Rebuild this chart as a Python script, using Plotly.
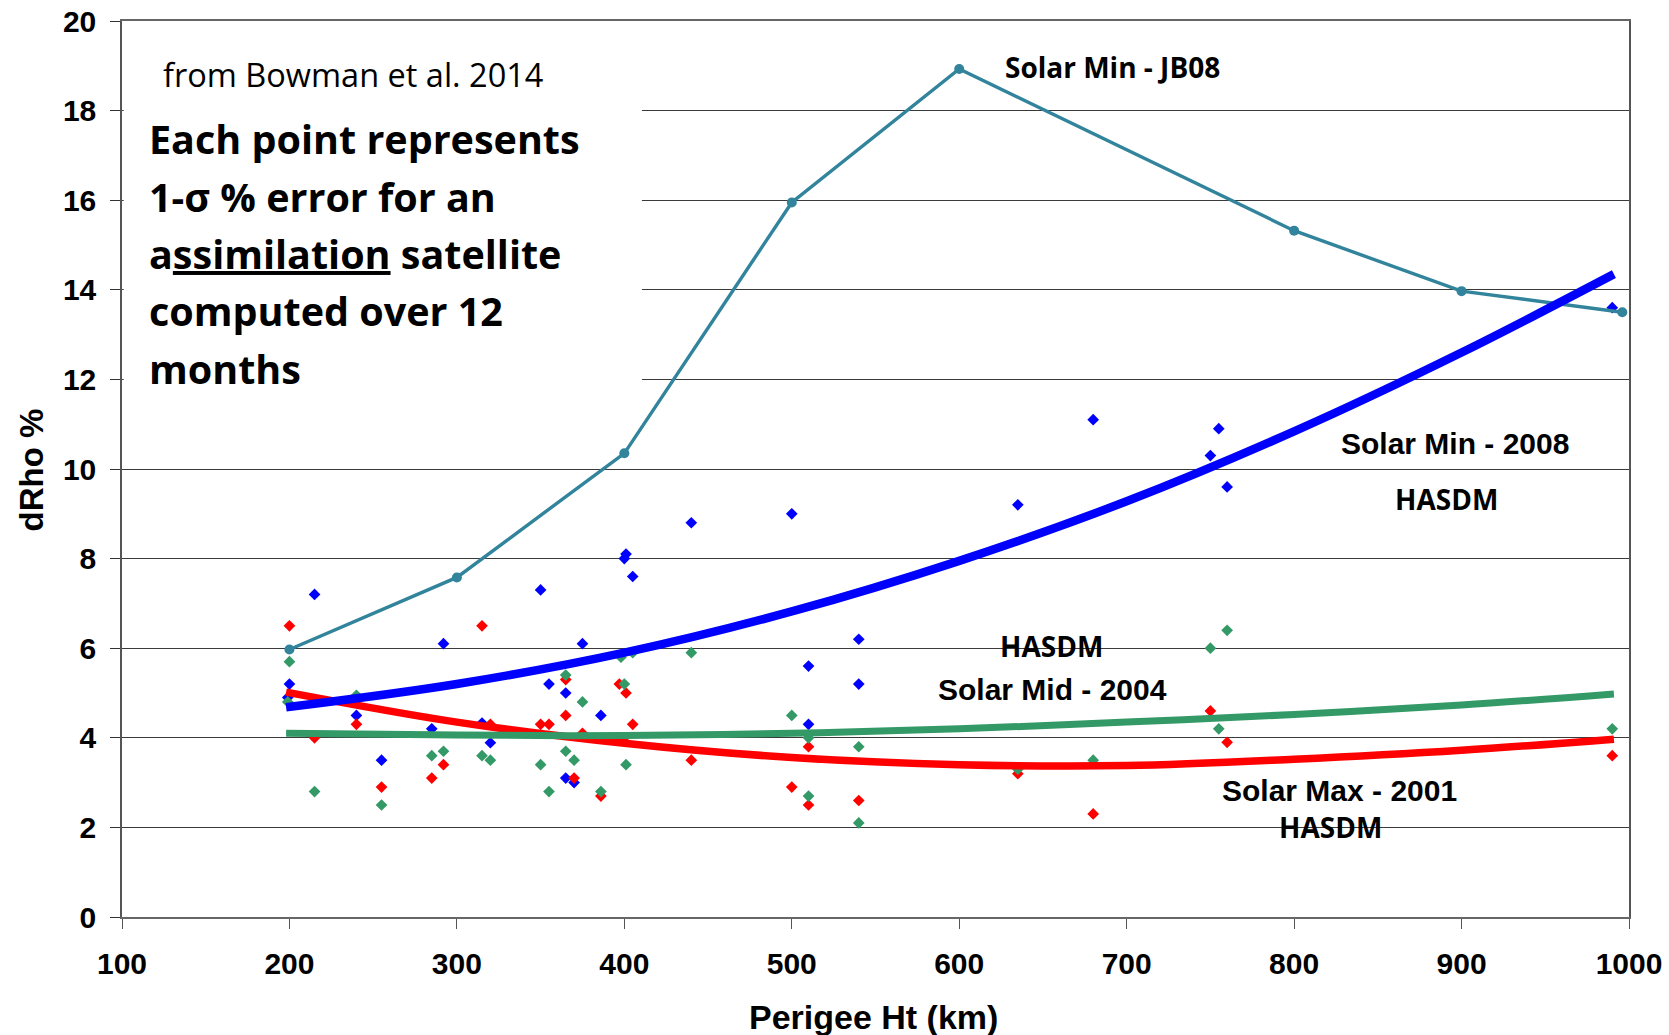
import plotly.graph_objects as go

# ---- data ----
x_ticks = [100, 200, 300, 400, 500, 600, 700, 800, 900, 1000]
y_ticks = [0, 2, 4, 6, 8, 10, 12, 14, 16, 18, 20]

# Solar Min - JB08 (teal line with markers)
jb08_x = [200, 300, 400, 500, 600, 800, 900, 996]
jb08_y = [5.97, 7.58, 10.35, 15.95, 18.93, 15.32, 13.97, 13.5]

# Scatter points (HASDM, one per satellite)
min2008_x = [200, 199, 215, 240, 255, 285, 292, 315, 320, 350, 355, 365, 365, 370, 375, 386,
             400, 401, 405, 440, 500, 510, 510, 540, 540, 635, 680, 750, 755, 760, 990]
min2008_y = [5.2, 4.9, 7.2, 4.5, 3.5, 4.2, 6.1, 4.33, 3.89, 7.3, 5.2, 5.0, 3.1, 3.0, 6.1, 4.5,
             8.0, 8.1, 7.6, 8.8, 9.0, 5.6, 4.3, 6.2, 5.2, 9.2, 11.1, 10.3, 10.9, 9.6, 13.6]

max2001_x = [200, 215, 240, 255, 285, 292, 315, 320, 350, 355, 365, 365, 370, 375, 386, 397,
             401, 400, 405, 440, 500, 510, 510, 540, 635, 680, 750, 760, 990]
max2001_y = [6.5, 4.0, 4.3, 2.9, 3.1, 3.4, 6.5, 4.3, 4.3, 4.3, 5.3, 4.5, 3.1, 4.1, 2.7, 5.2,
             5.0, 4.0, 4.3, 3.5, 2.9, 3.8, 2.5, 2.6, 3.2, 2.3, 4.6, 3.9, 3.6]

mid2004_x = [200, 199, 215, 240, 255, 285, 292, 315, 320, 350, 355, 365, 365, 370, 375, 386,
             398, 400, 401, 405, 440, 500, 510, 510, 540, 540, 635, 680, 750, 755, 760, 990]
mid2004_y = [5.7, 4.8, 2.8, 4.95, 2.5, 3.6, 3.7, 3.6, 3.5, 3.4, 2.8, 5.4, 3.7, 3.5, 4.8, 2.8,
             5.8, 5.2, 3.4, 5.9, 5.9, 4.5, 4.0, 2.7, 3.8, 2.1, 3.3, 3.5, 6.0, 4.2, 6.4, 4.2]

# Trend lines
fit_x = [198, 300, 400, 500, 600, 700, 800, 900, 991]
fit_min2008 = [4.68, 5.2, 5.9, 6.82, 7.95, 9.28, 10.84, 12.6, 14.35]
fit_max2001 = [5.02, 4.35, 3.88, 3.56, 3.40, 3.38, 3.52, 3.72, 3.97]
fit_mid2004 = [4.1, 4.06, 4.05, 4.1, 4.2, 4.35, 4.52, 4.73, 4.98]

BLUE = "#0000FF"
RED = "#FF0000"
GREEN = "#339966"
TEAL = "#31849B"

fig = go.Figure()

def pts(x, y, c):
    fig.add_trace(go.Scatter(x=x, y=y, mode="markers",
                             marker=dict(symbol="diamond", size=9, color=c, line=dict(width=0)),
                             showlegend=False, hoverinfo="x+y"))

pts(min2008_x, min2008_y, BLUE)
pts(max2001_x, max2001_y, RED)
pts(mid2004_x, mid2004_y, GREEN)

fig.add_trace(go.Scatter(x=jb08_x, y=jb08_y, mode="lines+markers",
                         line=dict(color=TEAL, width=3.4),
                         marker=dict(symbol="circle", size=10, color=TEAL),
                         showlegend=False))

fig.add_trace(go.Scatter(x=fit_x, y=fit_max2001, mode="lines", line=dict(color=RED, width=7.5, shape="spline"),
                         showlegend=False))
fig.add_trace(go.Scatter(x=fit_x, y=fit_mid2004, mode="lines", line=dict(color=GREEN, width=7, shape="spline"),
                         showlegend=False))
fig.add_trace(go.Scatter(x=fit_x, y=fit_min2008, mode="lines", line=dict(color=BLUE, width=8.5, shape="spline"),
                         showlegend=False))

ARIAL = "Liberation Sans, Arial, sans-serif"
CALIBRI = "Open Sans, Noto Sans, sans-serif"

annotations = []

def label(text, x, y, size, family, xanchor="center", bold=True):
    annotations.append(dict(x=x, y=y, xref="x", yref="y", text=text, showarrow=False,
                            xanchor=xanchor, yanchor="middle",
                            font=dict(family=family, size=size, color="black",
                                      weight="bold" if bold else "normal")))

label("from Bowman et al. 2014", 123.0, 18.81, 32.5, CALIBRI, xanchor="left", bold=False)
block = ["Each point represents", "1-σ % error for an", "a<u>ssimilation</u> satellite",
         "computed over 12", "months"]
block_y = [17.36, 16.07, 14.79, 13.52, 12.24]
for t, yy in zip(block, block_y):
    label(t, 114.8, yy, 39.5, CALIBRI, xanchor="left")

label("Solar Min - JB08", 626, 18.97, 28, CALIBRI, xanchor="left")
label("Solar Min - 2008", 896.0, 10.57, 30, ARIAL)
label("HASDM", 891, 9.32, 28, CALIBRI)
label("HASDM", 655, 6.06, 28, CALIBRI)
label("Solar Mid - 2004", 655.8, 5.08, 30, ARIAL)
label("Solar Max - 2001", 827, 2.82, 30, ARIAL)
label("HASDM", 822, 2.0, 28, CALIBRI)

# axis titles
annotations.append(dict(x=0.4985, y=-0.112, xref="paper", yref="paper", text="Perigee Ht (km)",
                        showarrow=False, xanchor="center", yanchor="middle",
                        font=dict(family=ARIAL, size=34, color="black", weight="bold")))
annotations.append(dict(x=-0.0600, y=0.499, xref="paper", yref="paper", text="dRho %",
                        showarrow=False, xanchor="center", yanchor="middle", textangle=-90,
                        font=dict(family=ARIAL, size=33, color="black", weight="bold")))

fig.update_layout(
    width=1669, height=1035,
    margin=dict(l=122, r=40, t=21, b=118),
    paper_bgcolor="white", plot_bgcolor="white",
    annotations=annotations,
    shapes=[dict(type="rect", xref="x", yref="y", x0=101, x1=410.5, y0=11.0, y1=19.9,
                 fillcolor="white", line=dict(width=0), layer="above")],
)

fig.update_xaxes(range=[100, 1000], tickvals=x_ticks, ticktext=[str(v) for v in x_ticks],
                 automargin=False,
                 showgrid=False, zeroline=False,
                 showline=True, linecolor="#666666", linewidth=2, mirror=True,
                 ticks="outside", ticklen=10, tickcolor="#555555", tickwidth=1,
                 ticklabelstandoff=9,
                 tickfont=dict(family=ARIAL, size=30, color="black", weight="bold"))
fig.update_yaxes(range=[0, 20], tickvals=y_ticks, ticktext=[str(v) for v in y_ticks],
                 automargin=False,
                 showgrid=True, gridcolor="#3a3a3a", gridwidth=1, zeroline=False,
                 showline=True, linecolor="#555555", linewidth=1.5, mirror=True,
                 ticks="outside", ticklen=10, tickcolor="#333333", tickwidth=1,
                 ticklabelstandoff=8,
                 tickfont=dict(family=ARIAL, size=30, color="black", weight="bold"))

fig.write_html("out.html")
